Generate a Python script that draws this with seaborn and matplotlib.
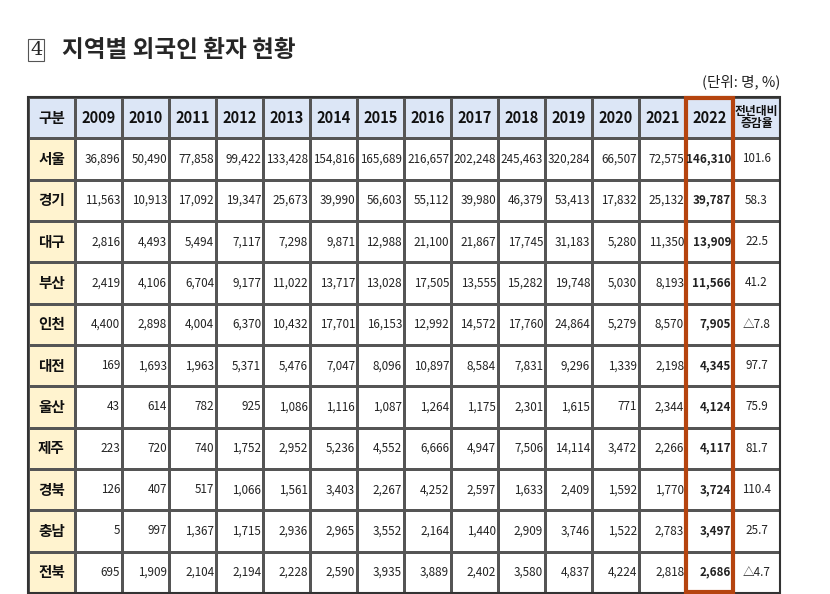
import numpy as np
import matplotlib
matplotlib.use("Agg")
import matplotlib.pyplot as plt
import seaborn as sns
from matplotlib.colors import ListedColormap
from matplotlib.patches import Rectangle

years = ["2009","2010","2011","2012","2013","2014","2015","2016","2017","2018","2019","2020","2021","2022"]
regions = ["서울","경기","대구","부산","인천","대전","울산","제주","경북","충남","전북"]
seoul   = [36896,50490,77858,99422,133428,154816,165689,216657,202248,245463,320284,66507,72575,146310]
gyeonggi= [11563,10913,17092,19347,25673,39990,56603,55112,39980,46379,53413,17832,25132,39787]
daegu   = [2816,4493,5494,7117,7298,9871,12988,21100,21867,17745,31183,5280,11350,13909]
busan   = [2419,4106,6704,9177,11022,13717,13028,17505,13555,15282,19748,5030,8193,11566]
incheon = [4400,2898,4004,6370,10432,17701,16153,12992,14572,17760,24864,5279,8570,7905]
daejeon = [169,1693,1963,5371,5476,7047,8096,10897,8584,7831,9296,1339,2198,4345]
ulsan   = [43,614,782,925,1086,1116,1087,1264,1175,2301,1615,771,2344,4124]
jeju    = [223,720,740,1752,2952,5236,4552,6666,4947,7506,14114,3472,2266,4117]
gyeongbuk=[126,407,517,1066,1561,3403,2267,4252,2597,1633,2409,1592,1770,3724]
chungnam= [5,997,1367,1715,2936,2965,3552,2164,1440,2909,3746,1522,2783,3497]
jeonbuk = [695,1909,2104,2194,2228,2590,3935,3889,2402,3580,4837,4224,2818,2686]
change  = ["101.6","58.3","22.5","41.2","△7.8","97.7","75.9","81.7","110.4","25.7","△4.7"]
values = [seoul,gyeonggi,daegu,busan,incheon,daejeon,ulsan,jeju,gyeongbuk,chungnam,jeonbuk]

import matplotlib.font_manager as fm
names = {f.name for f in fm.fontManager.ttflist}
KR = next((n for n in ["Noto Sans CJK KR", "Noto Sans CJK JP", "Noto Sans CJK SC"] if n in names), "DejaVu Sans")
NUM = "Liberation Sans Narrow" if "Liberation Sans Narrow" in names else KR
NUMSIZE = 10 if NUM != KR else 8.4

sns.set_theme(style="white", rc={"font.family": KR})
plt.rcParams["font.family"] = KR

nrow = len(regions) + 1
ncol = len(years) + 2
kind = np.zeros((nrow, ncol))
kind[0, :] = 1
kind[1:, 0] = 2

fig = plt.figure(figsize=(8.3, 5.94), dpi=100)
ax = fig.add_axes([28/830, 1/594, 752/830, 496/594])
sns.heatmap(kind, ax=ax, cmap=ListedColormap(["#ffffff", "#dce6f6", "#fff3cf"]),
            cbar=False, linewidths=1, linecolor="#555555", vmin=0, vmax=2)
ax.set_xticks([]); ax.set_yticks([])
ax.add_patch(Rectangle((0, 0), ncol, nrow, fill=False, ec="#333333", lw=1.5, clip_on=False))

ax.text(0.5, 0.5, "구분", ha="center", va="center", fontsize=10.5, fontweight="bold", color="#111111")
for j, y in enumerate(years):
    ax.text(j + 1.5, 0.5, y, ha="center", va="center", fontsize=10.5, fontweight="bold", color="#111111")
ax.text(ncol - 0.5, 0.5, "전년대비\n증감율", ha="center", va="center", fontsize=8.5, fontweight="bold",
        color="#111111", linespacing=0.9)
for i, r in enumerate(regions):
    ax.text(0.5, i + 1.5, r, ha="center", va="center", fontsize=10.5, fontweight="bold", color="#111111")
    for j, v in enumerate(values[i]):
        last = j == len(years) - 1
        ax.text(j + 1.96, i + 1.5, f"{v:,}", ha="right", va="center", fontsize=NUMSIZE,
                fontfamily=NUM, fontweight="bold" if last else "normal", color="#222222")
    ax.text(ncol - 0.5, i + 1.5, change[i], ha="center", va="center", fontsize=NUMSIZE,
            fontfamily=NUM, color="#222222")

ax.add_patch(Rectangle((len(years), 0.02), 1, nrow - 0.04, fill=False, ec="#b5440f", lw=3, clip_on=False))

fig.text(30/830, 1 - 50/594, "4", fontsize=14, va="center", ha="left", fontfamily="DejaVu Serif",
         bbox=dict(boxstyle="square,pad=0.1", fc="white", ec="#555555", lw=0.8))
fig.text(62/830, 1 - 50/594, "지역별 외국인 환자 현황", fontsize=17, fontweight="bold", va="center", ha="left")
fig.text(780/830, 1 - 82/594, "(단위: 명, %)", fontsize=10.5, va="center", ha="right", color="#222222")

fig.savefig("out.png", dpi=100)
